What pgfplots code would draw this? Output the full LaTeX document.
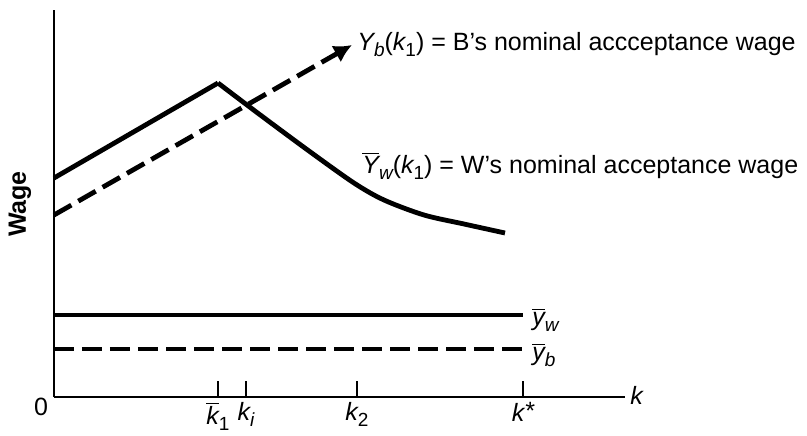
\documentclass[border=0pt]{standalone}
\usepackage{fontspec}
\setmainfont{Liberation Sans}
\usepackage{pgfplots}
\pgfplotsset{compat=1.18}
\usetikzlibrary{arrows.meta}

% subscripts sit low and fairly large in the original
\newcommand{\sub}[1]{\raisebox{-0.5ex}{\fontsize{9.5}{11}\selectfont #1}}
\newcommand{\bvar}[1]{$\overline{\mbox{\itshape #1}}$}

\begin{document}
\begin{tikzpicture}[font=\fontsize{12.5}{15}\selectfont]
\begin{axis}[
    scale only axis,
    width=285.5pt,
    height=193.5pt,
    xmin=0, xmax=5.71,
    ymin=0, ymax=3.87,
    axis lines*=left,
    axis line style={line width=1.3pt},
    ytick=\empty,
    xtick={1.64,1.92,3.03,4.69},
    xticklabels={{\bvar{k}\sub{1}}, {\itshape k\sub{i}}, {\itshape k\sub{\upshape 2}}, {\itshape k\raisebox{0.2ex}{*}}},
    tick align=inside,
    major tick length=8pt,
    tick style={line width=0.9pt, black},
    xticklabel style={yshift=1pt},
    clip=false,
]
% W's acceptance wage: straight rise, curved fall
\addplot[line width=2.4pt, black] coordinates {(0,2.19) (1.64,3.14)};
\addplot[line width=2.4pt, black, smooth, tension=0.5] coordinates {
    (1.64,3.14) (2.05,2.83) (2.55,2.46) (3.00,2.14) (3.30,1.97)
    (3.70,1.82) (4.10,1.73) (4.51,1.64)};
% B's acceptance wage
\addplot[line width=2.4pt, black, dash pattern=on 10pt off 4pt,
    -{Latex[length=9pt,width=9.5pt]}] coordinates {(0,1.82) (2.98,3.52)};
% reservation wages
\addplot[line width=2.4pt, black] coordinates {(0,0.82) (4.69,0.82)};
\addplot[line width=2.4pt, black, dash pattern=on 10pt off 4pt] coordinates {(0,0.48) (4.69,0.48)};

\node[anchor=base west, inner sep=0pt] at (axis cs:3.03,3.47)
    {\itshape Y\sub{b}\upshape(\itshape k\sub{\upshape 1}\upshape) = B's nominal accceptance wage};
\node[anchor=base west, inner sep=0pt] at (axis cs:3.08,2.24)
    {\bvar{Y}\sub{\itshape w}(\itshape k\sub{\upshape 1}\upshape) = W's nominal acceptance wage};
\node[anchor=west, inner sep=0pt] at (axis cs:4.78,0.77) {\bvar{y}\sub{\itshape w}};
\node[anchor=west, inner sep=0pt] at (axis cs:4.78,0.42) {\bvar{y}\sub{\itshape b}};
\node[rotate=90, font=\fontsize{12.5}{15}\selectfont\bfseries] at (axis cs:-0.34,1.93) {Wage};
\node at (axis cs:-0.13,-0.10) {0};
\node[anchor=west, inner sep=0pt] at (axis cs:5.76,0.02) {\itshape k};

\coordinate (bbsw) at (axis cs:-0.54,-0.38);
\coordinate (bbne) at (axis cs:7.53,3.97);
\end{axis}
\pgfresetboundingbox
\path[use as bounding box] (bbsw) rectangle (bbne);
\end{tikzpicture}
\end{document}
